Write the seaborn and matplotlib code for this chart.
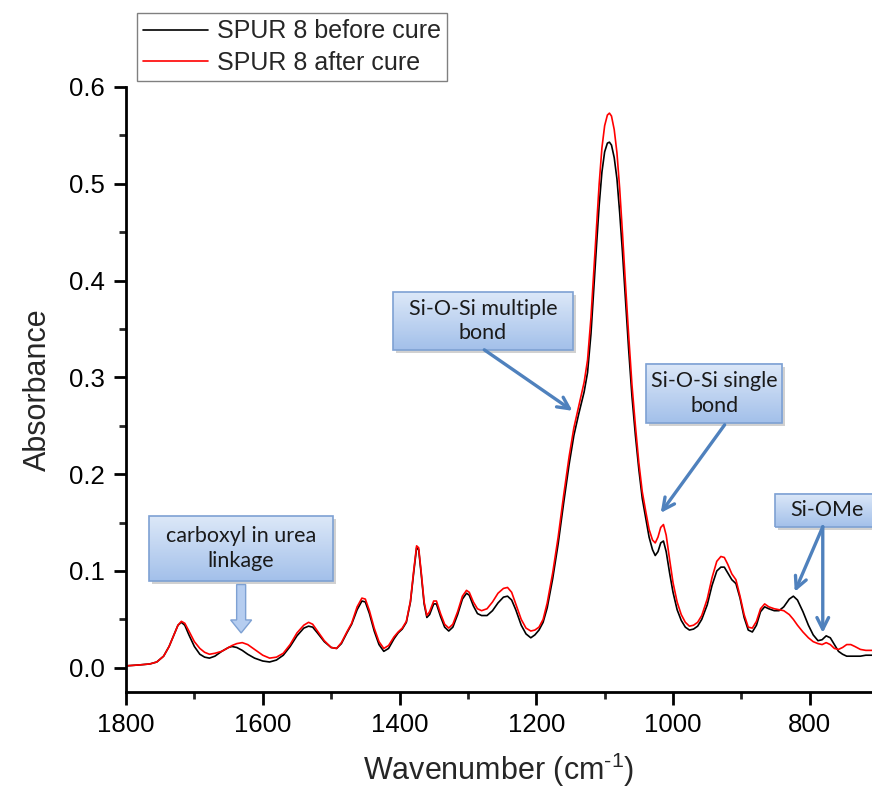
import numpy as np
import pandas as pd
import matplotlib
matplotlib.use("Agg")
import matplotlib.pyplot as plt
import seaborn as sns
from matplotlib.colors import LinearSegmentedColormap
from matplotlib.patches import Rectangle
from matplotlib.lines import Line2D
from matplotlib.ticker import MultipleLocator

# ---------------- data ----------------
wavenumber = [1800, 1780, 1765, 1755, 1745, 1737, 1730, 1724, 1719, 1714, 1708, 1700, 1692, 1685,
              1678, 1670, 1660, 1650, 1645, 1638, 1630, 1622, 1612, 1600, 1590, 1580, 1570, 1560,
              1550, 1540, 1533, 1527, 1520, 1510, 1500, 1492, 1485, 1477, 1470, 1462, 1455, 1450,
              1444, 1437, 1430, 1423, 1416, 1408, 1402, 1396, 1390, 1384, 1379, 1375, 1372, 1368,
              1364, 1360, 1356, 1350, 1346, 1340, 1334, 1328, 1322, 1315, 1308, 1302, 1298, 1292,
              1286, 1280, 1272, 1264, 1256, 1248, 1242, 1236, 1230, 1222, 1215, 1208, 1202, 1196,
              1190, 1184, 1176, 1168, 1160, 1152, 1145, 1138, 1130, 1125, 1120, 1116, 1112, 1108,
              1104, 1100, 1096, 1093, 1090, 1086, 1082, 1078, 1074, 1070, 1065, 1060, 1055, 1050,
              1045, 1040, 1035, 1030, 1026, 1022, 1018, 1014, 1010, 1005, 1000, 994, 988, 982,
              976, 970, 964, 958, 950, 943, 936, 930, 925, 920, 914, 908, 902, 896, 890, 884, 878,
              872, 866, 860, 852, 845, 838, 830, 824, 818, 810, 802, 795, 788, 782, 776, 770, 764,
              758, 752, 746, 740, 734, 726, 718, 709]

before_cure = [0.002, 0.003, 0.004, 0.006, 0.012, 0.022, 0.034, 0.044, 0.047, 0.044, 0.034, 0.022, 0.014, 0.011,
               0.010, 0.012, 0.017, 0.021, 0.022, 0.021, 0.018, 0.014, 0.010, 0.007, 0.006, 0.008, 0.013, 0.022,
               0.033, 0.041, 0.043, 0.042, 0.036, 0.027, 0.021, 0.020, 0.025, 0.036, 0.045, 0.060, 0.069, 0.068,
               0.056, 0.038, 0.024, 0.017, 0.020, 0.030, 0.036, 0.040, 0.047, 0.068, 0.100, 0.124, 0.122, 0.095,
               0.066, 0.052, 0.055, 0.066, 0.066, 0.053, 0.042, 0.038, 0.042, 0.055, 0.071, 0.077, 0.075, 0.064,
               0.056, 0.054, 0.054, 0.059, 0.067, 0.073, 0.074, 0.070, 0.060, 0.044, 0.035, 0.031, 0.034, 0.039,
               0.047, 0.062, 0.092, 0.128, 0.170, 0.210, 0.240, 0.262, 0.285, 0.305, 0.345, 0.390, 0.435, 0.478,
               0.512, 0.533, 0.542, 0.543, 0.540, 0.527, 0.505, 0.470, 0.430, 0.385, 0.330, 0.280, 0.240, 0.205,
               0.175, 0.155, 0.135, 0.122, 0.116, 0.120, 0.129, 0.131, 0.120, 0.098, 0.078, 0.060, 0.049, 0.042,
               0.039, 0.040, 0.043, 0.050, 0.065, 0.085, 0.100, 0.104, 0.104, 0.098, 0.091, 0.087, 0.072, 0.052, 0.039, 0.037, 0.044,
               0.058, 0.063, 0.061, 0.059, 0.059, 0.063, 0.071, 0.074, 0.070, 0.058, 0.044, 0.034, 0.028, 0.029, 0.033, 0.031, 0.024,
               0.017, 0.014, 0.012, 0.012, 0.012, 0.012, 0.013, 0.013]

after_cure = [0.002, 0.003, 0.004, 0.006, 0.012, 0.022, 0.034, 0.044, 0.048, 0.046, 0.038, 0.027, 0.020, 0.016,
              0.014, 0.015, 0.017, 0.021, 0.023, 0.025, 0.026, 0.024, 0.019, 0.013, 0.010, 0.011, 0.015, 0.024,
              0.036, 0.044, 0.047, 0.045, 0.038, 0.028, 0.021, 0.020, 0.026, 0.037, 0.046, 0.063, 0.072, 0.071,
              0.059, 0.041, 0.027, 0.020, 0.023, 0.032, 0.037, 0.041, 0.048, 0.069, 0.102, 0.126, 0.124, 0.097,
              0.068, 0.054, 0.058, 0.069, 0.069, 0.056, 0.045, 0.041, 0.045, 0.058, 0.074, 0.080, 0.078, 0.068,
              0.061, 0.059, 0.061, 0.068, 0.077, 0.082, 0.083, 0.078, 0.066, 0.050, 0.041, 0.038, 0.039, 0.042,
              0.050, 0.067, 0.098, 0.135, 0.178, 0.218, 0.248, 0.270, 0.295, 0.318, 0.362, 0.408, 0.455, 0.500,
              0.537, 0.560, 0.571, 0.573, 0.570, 0.556, 0.532, 0.495, 0.450, 0.402, 0.345, 0.292, 0.250, 0.212,
              0.182, 0.162, 0.143, 0.132, 0.129, 0.135, 0.145, 0.148, 0.137, 0.112, 0.088, 0.068, 0.055, 0.047,
              0.043, 0.044, 0.047, 0.054, 0.071, 0.093, 0.110, 0.115, 0.114, 0.107, 0.097, 0.091, 0.074, 0.055, 0.042, 0.041, 0.048,
              0.061, 0.066, 0.063, 0.061, 0.060, 0.059, 0.055, 0.050, 0.044, 0.037, 0.031, 0.027, 0.025, 0.024, 0.026, 0.024, 0.020,
              0.019, 0.021, 0.024, 0.024, 0.022, 0.019, 0.018, 0.018]

series_names = ["SPUR 8 before cure", "SPUR 8 after cure"]
series_colors = ["black", "#ff0000"]
x_ticks = [1800, 1600, 1400, 1200, 1000, 800]
y_ticks = [0.0, 0.1, 0.2, 0.3, 0.4, 0.5, 0.6]

annotation_texts = ["carboxyl in urea\nlinkage", "Si-O-Si multiple\nbond", "Si-O-Si single\nbond", "Si-OMe"]

# ---------------- figure ----------------
sns.set_theme(style="white")
plt.rcParams["font.family"] = ["Liberation Sans", "DejaVu Sans"]
plt.rcParams["mathtext.default"] = "regular"

df = pd.concat([
    pd.DataFrame({"wn": wavenumber, "A": before_cure, "series": series_names[0]}),
    pd.DataFrame({"wn": wavenumber, "A": after_cure, "series": series_names[1]}),
])

fig = plt.figure(figsize=(8.72, 7.91), dpi=100)
ax = fig.add_axes([126 / 872, 1 - 692 / 791, 1 - 126 / 872, (692 - 87) / 791])

sns.lineplot(data=df, x="wn", y="A", hue="series", palette=dict(zip(series_names, series_colors)),
             hue_order=series_names, sort=False, estimator=None, linewidth=1.2, ax=ax, legend=False)

XL, XR = 1800, 709
YB, YT = -0.025, 0.6
ax.set_xlim(XL, XR)
ax.set_ylim(YB, YT)

ax.set_xticks(x_ticks)
ax.set_xticklabels([str(v) for v in x_ticks])
ax.set_yticks(y_ticks)
ax.set_yticklabels([f"{v:.1f}" for v in y_ticks])
ax.xaxis.set_minor_locator(MultipleLocator(100))
ax.yaxis.set_minor_locator(MultipleLocator(0.05))
ax.tick_params(axis="both", which="major", direction="out", length=9, width=2, labelsize=18.5,
               bottom=True, left=True, pad=6, colors="black")
ax.tick_params(axis="both", which="minor", direction="out", length=5, width=2, bottom=True, left=True)

for s in ["top", "right"]:
    ax.spines[s].set_visible(False)
for s in ["left", "bottom"]:
    ax.spines[s].set_linewidth(2)
    ax.spines[s].set_color("black")

ax.set_xlabel("Wavenumber (cm$^{\u2010 1}$)", fontsize=22, labelpad=10)
ax.set_ylabel("Absorbance", fontsize=22, labelpad=12)

# legend above the axes
handles = [Line2D([], [], color=c, lw=1.2) for c in series_colors]
leg = fig.legend(handles, series_names, loc="upper left", bbox_to_anchor=(137 / 872, 1 - 13 / 791),
                 frameon=True, fancybox=False, framealpha=1, edgecolor="#808080", fontsize=18,
                 borderpad=0.25, handlelength=2.6, handletextpad=0.35, labelspacing=0.3, borderaxespad=0)
leg.get_frame().set_linewidth(1.0)

# ---------------- annotation boxes ----------------
grad_cmap = LinearSegmentedColormap.from_list("g", ["#a3c0ea", "#dce8f8"])
px_x = (XL - XR) / (872 - 126)
px_y = (YT - YB) / (692 - 87)
ARROW_C = "#4f81bd"


def draw_box(x0, x1, y0, y1, text):
    ax.add_patch(Rectangle((x0 - 3 * px_x, y0 - 3 * px_y), x1 - x0, y1 - y0, facecolor="#000000",
                           alpha=0.18, edgecolor="none", zorder=4, clip_on=False))
    grad = np.linspace(0, 1, 64).reshape(-1, 1)
    ax.imshow(grad, cmap=grad_cmap, origin="lower", extent=(x0, x1, y0, y1), aspect="auto",
              zorder=5, interpolation="bilinear", clip_on=False)
    ax.add_patch(Rectangle((x0, y0), x1 - x0, y1 - y0, facecolor="none", edgecolor="#7ea1d3",
                           linewidth=1.2, zorder=6, clip_on=False))
    ax.text((x0 + x1) / 2, (y0 + y1) / 2, text, ha="center", va="center", fontsize=15.5,
            family=["Lato", "DejaVu Sans"], color="#1a1a1a", zorder=7, linespacing=1.3, clip_on=False)


def arrow(x0, y0, x1, y1):
    ax.annotate("", xy=(x1, y1), xytext=(x0, y0), zorder=8,
                arrowprops=dict(arrowstyle="->,head_length=0.7,head_width=0.35", color=ARROW_C,
                                lw=2.4, shrinkA=0, shrinkB=0))


draw_box(1766, 1498, 0.0899, 0.157, annotation_texts[0])
draw_box(1409, 1147, 0.3285, 0.388, annotation_texts[1])
draw_box(1039, 840, 0.253, 0.314, annotation_texts[2])
draw_box(851, 700, 0.1457, 0.1798, annotation_texts[3])

# block arrow for carboxyl
shaft_w = 9 * px_x
head_w = 21 * px_x
xc = 1631.6
y_top, y_tip = 0.0860, 0.036
y_neck = y_tip + 13 * px_y
poly_x = [xc - shaft_w / 2, xc + shaft_w / 2, xc + shaft_w / 2, xc + head_w / 2, xc,
          xc - head_w / 2, xc - shaft_w / 2]
poly_y = [y_top, y_top, y_neck, y_neck, y_tip, y_neck, y_neck]
ax.fill(poly_x, poly_y, facecolor="#b5cdf0", edgecolor="#7ea1d3", linewidth=1.0, zorder=6)

arrow(1276, 0.3285, 1147, 0.2655)
arrow(924.5, 0.251, 1018, 0.160)
arrow(781, 0.1457, 822, 0.0785)
arrow(781, 0.1457, 781, 0.036)

ax.set_xlim(XL, XR)
ax.set_ylim(YB, YT)

fig.savefig("out.png", dpi=100)
